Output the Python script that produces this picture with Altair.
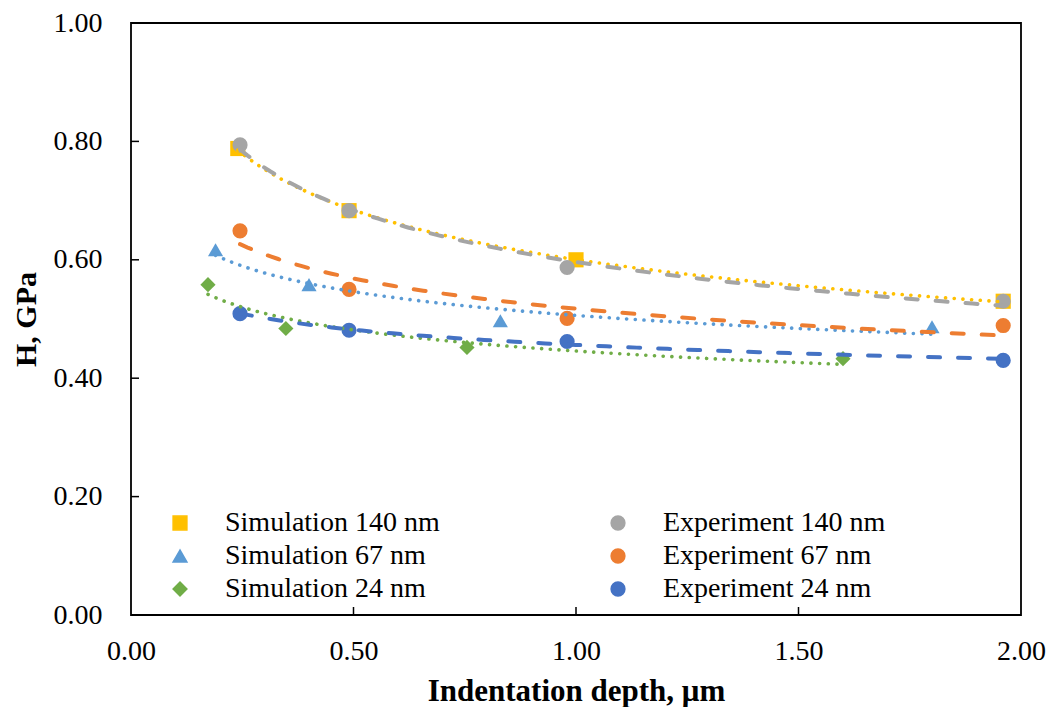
import altair as alt
import pandas as pd

# ---- data ----
series_order = [
    "Simulation 140 nm", "Simulation 67 nm", "Simulation 24 nm",
    "Experiment 140 nm", "Experiment 67 nm", "Experiment 24 nm",
]
series_colors = ["#FFC000", "#5B9BD5", "#70AD47", "#A5A5A5", "#ED7D31", "#4472C4"]
series_shapes = ["square", "triangle-up", "diamond", "circle", "circle", "circle"]

sim_140_x = [0.24, 0.49, 1.00, 1.96]
sim_140_y = [0.788, 0.683, 0.600, 0.530]
exp_140_x = [0.245, 0.49, 0.98, 1.96]
exp_140_y = [0.794, 0.683, 0.587, 0.530]
sim_67_x = [0.19, 0.40, 0.83, 1.80]
sim_67_y = [0.617, 0.558, 0.497, 0.487]
exp_67_x = [0.245, 0.49, 0.98, 1.96]
exp_67_y = [0.649, 0.550, 0.501, 0.489]
sim_24_x = [0.173, 0.348, 0.755, 1.60]
sim_24_y = [0.558, 0.484, 0.452, 0.433]
exp_24_x = [0.245, 0.49, 0.98, 1.96]
exp_24_y = [0.509, 0.481, 0.462, 0.430]

x_ticks = [0.0, 0.5, 1.0, 1.5, 2.0]
y_ticks = [0.0, 0.2, 0.4, 0.6, 0.8, 1.0]

# ---- build table ----
rows = []
for name, xs, ys in [
    ("Simulation 140 nm", sim_140_x, sim_140_y),
    ("Experiment 140 nm", exp_140_x, exp_140_y),
    ("Simulation 67 nm", sim_67_x, sim_67_y),
    ("Experiment 67 nm", exp_67_x, exp_67_y),
    ("Simulation 24 nm", sim_24_x, sim_24_y),
    ("Experiment 24 nm", exp_24_x, exp_24_y),
]:
    for xv, yv in zip(xs, ys):
        rows.append({"series": name, "x": xv, "y": yv,
                     "kind": name.split(" ")[0]})
df = pd.DataFrame(rows)

FONT = "Liberation Serif"
W, H = 890, 592

xscale = alt.Scale(domain=[0, 2], nice=False, zero=False)
yscale = alt.Scale(domain=[0, 1], nice=False, zero=False)
color_scale = alt.Scale(domain=series_order, range=series_colors)
shape_scale = alt.Scale(domain=series_order, range=series_shapes)

base = alt.Chart(df)

points = base.mark_point(filled=True, opacity=1, size=230).encode(
    x=alt.X("x:Q", scale=xscale,
            axis=alt.Axis(title="Indentation depth, μm", values=x_ticks, format=".2f",
                          ticks=False, tickSize=0, domain=False, grid=False,
                          labelFlush=False, labelPadding=22, titlePadding=11,
                          titleFontSize=31)),
    y=alt.Y("y:Q", scale=yscale,
            axis=alt.Axis(title="H, GPa", values=y_ticks, format=".2f",
                          ticks=False, tickSize=0, domain=False, grid=False,
                          labelFlush=False, labelPadding=29, titlePadding=12,
                          titleFontSize=30)),
    color=alt.Color("series:N", scale=color_scale, title=None,
                    legend=alt.Legend(orient="none", legendX=35, legendY=486,
                                      columns=2, columnPadding=164, rowPadding=5,
                                      symbolSize=190, labelOffset=31,
                                      labelLimit=500, padding=0)),
    shape=alt.Shape("series:N", scale=shape_scale, title=None),
)

sim_lines = base.transform_filter(alt.datum.kind == "Simulation").transform_regression(
    "x", "y", method="pow", groupby=["series"]
).mark_line(strokeWidth=3.6, strokeDash=[0.1, 8.6], strokeCap="round").encode(
    x=alt.X("x:Q", scale=xscale),
    y=alt.Y("y:Q", scale=yscale),
    color=alt.Color("series:N", scale=color_scale, legend=None),
)

exp_lines = base.transform_filter(alt.datum.kind == "Experiment").transform_regression(
    "x", "y", method="pow", groupby=["series"]
).mark_line(strokeWidth=4, strokeDash=[12, 18], strokeCap="round").encode(
    x=alt.X("x:Q", scale=xscale),
    y=alt.Y("y:Q", scale=yscale),
    color=alt.Color("series:N", scale=color_scale, legend=None),
)

ytick_df = pd.DataFrame({"y": y_ticks[1:-1]})
xtick_df = pd.DataFrame({"x": x_ticks[1:-1]})

ytick_marks = alt.Chart(ytick_df).mark_rule(color="black", strokeWidth=1.5).encode(
    y=alt.Y("y:Q", scale=yscale),
    x=alt.value(0), x2=alt.value(8),
)
xtick_marks = alt.Chart(xtick_df).mark_rule(color="black", strokeWidth=1.5).encode(
    x=alt.X("x:Q", scale=xscale),
    y=alt.value(H), y2=alt.value(H - 8),
)

chart = alt.layer(points, sim_lines, exp_lines, ytick_marks, xtick_marks).properties(
    width=W, height=H,
    autosize=alt.AutoSizeParams(type="none"),
    padding={"left": 123, "top": 15, "right": 26, "bottom": 92},
).configure_view(
    stroke="black", strokeWidth=1.8
).configure_axis(
    labelFont=FONT, labelFontSize=28, labelColor="black",
    titleFont=FONT, titleFontWeight="bold", titleColor="black",
).configure_legend(
    labelFont=FONT, labelFontSize=28, labelColor="black",
)

chart.save("out.html", embed_options={"renderer": "svg", "actions": False})
